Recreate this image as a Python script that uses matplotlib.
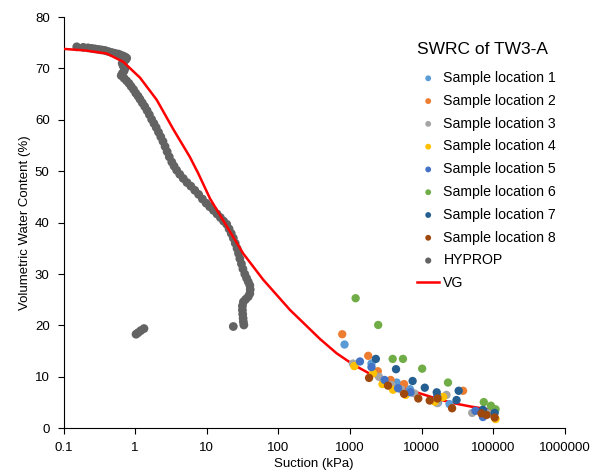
import numpy as np
import matplotlib
matplotlib.use("Agg")
import matplotlib.pyplot as plt

plt.rcParams['font.family'] = ['Liberation Sans', 'DejaVu Sans']

# sample locations (suction kPa, volumetric water content %)
s1_x = [840, 2000, 4500, 6900, 17000, 24600, 90000]
s1_y = [16.3, 12.6, 8.9, 7.6, 5.0, 4.7, 3.2]
s2_x = [780, 1800, 2450, 3700, 5700, 19000, 38000, 90000]
s2_y = [18.3, 14.1, 11.1, 9.4, 8.6, 6.0, 7.3, 2.9]
s3_x = [1100, 2550, 3800, 5250, 7900, 16500, 22300, 51000, 85000]
s3_y = [12.6, 10.0, 8.4, 7.5, 6.8, 4.9, 6.5, 3.0, 2.8]
s4_x = [1150, 2100, 2850, 4000, 6000, 15300, 20000, 108000]
s4_y = [12.1, 10.7, 8.6, 7.5, 6.5, 5.2, 6.1, 1.8]
s5_x = [1380, 2000, 3050, 4700, 7000, 16500, 56600, 72000]
s5_y = [13.0, 11.9, 9.4, 7.8, 7.0, 6.2, 3.4, 2.2]
s6_x = [1200, 2480, 3950, 5500, 10200, 23400, 74000, 93000, 108000]
s6_y = [25.3, 20.1, 13.5, 13.5, 11.6, 8.9, 5.1, 4.4, 3.7]
s7_x = [2300, 4400, 7500, 11100, 16300, 30800, 33000, 72000, 105000]
s7_y = [13.5, 11.5, 9.2, 7.9, 7.0, 5.5, 7.3, 3.6, 3.0]
s8_x = [1850, 3400, 5700, 9000, 13000, 16700, 26700, 68700, 81000, 105000]
s8_y = [9.8, 8.3, 6.7, 5.8, 5.4, 5.8, 3.9, 2.9, 2.6, 2.1]

hyprop_x = [0.153, 0.189, 0.22, 0.247, 0.275, 0.306, 0.34, 0.379, 0.42, 0.471,
            0.52, 0.582, 0.63, 0.684, 0.73, 0.762, 0.74, 0.70, 0.66, 0.68,
            0.72, 0.70, 0.66, 0.64, 0.70, 0.76, 0.82, 0.88, 0.95, 1.02,
            1.10, 1.17, 1.26, 1.36, 1.47, 1.58, 1.70, 1.83, 1.97, 2.12,
            2.28, 2.45, 2.62, 2.8, 3.0, 3.25, 3.5, 3.8, 4.2, 4.7,
            5.3, 6.0, 6.8, 7.7, 8.7, 9.8, 11, 12.4, 13.9, 15.5,
            17.2, 19, 20.5, 22, 23.5, 25, 26.5, 27.8, 29, 30.5,
            32, 34, 36, 38, 40, 40.5, 40, 38, 35, 32.5,
            31.5, 31.5, 31.8, 32.2, 32.5, 33, 23.5, 1.03, 1.1, 1.2, 1.33]
hyprop_y = [74.2, 74.1, 74.0, 73.9, 73.8, 73.7, 73.6, 73.5, 73.3, 73.1,
            72.95, 72.8, 72.6, 72.4, 72.2, 72.0, 71.7, 71.4, 71.0, 70.5,
            70.0, 69.5, 69.0, 68.6, 68.1, 67.6, 67.1, 66.5, 65.9, 65.2,
            64.6, 64.0, 63.3, 62.6, 61.8, 61.0, 60.1, 59.3, 58.5, 57.6,
            56.7, 55.8, 54.8, 53.8, 52.8, 51.8, 51.0, 50.2, 49.4, 48.6,
            47.8, 47.1, 46.3, 45.5, 44.6, 43.8, 43.1, 42.4, 41.7, 41.0,
            40.3, 39.7, 38.8, 37.9, 37.0, 36.0, 35.0, 34.0, 33.0, 32.0,
            31.0, 30.0, 29.2, 28.5, 27.8, 27.0, 26.2, 25.6, 25.1, 24.6,
            23.8, 23.0, 22.2, 21.4, 20.7, 20.1, 19.8, 18.3, 18.6, 19.0, 19.4]

vg_x = [0.1, 0.2, 0.4, 0.68, 1.17, 2.0, 3.4, 5.8, 7.6, 11.1, 17.9, 32.3, 61.5,
        146, 240, 380, 650, 1110, 1900, 3240, 5500, 9460, 16000, 27600, 50000, 94600]
vg_y = [73.8, 73.5, 72.9, 71.3, 68.2, 63.9, 58.2, 52.8, 49.6, 44.7, 39.9, 34.0, 28.9,
        23.0, 20.1, 17.4, 14.6, 12.4, 10.6, 9.2, 7.9, 6.8, 5.8, 4.9, 4.2, 3.6]

samples = [(s1_x, s1_y, '#5B9BD5'), (s2_x, s2_y, '#ED7D31'), (s3_x, s3_y, '#A5A5A5'),
           (s4_x, s4_y, '#FFC000'), (s5_x, s5_y, '#4472C4'), (s6_x, s6_y, '#70AD47'),
           (s7_x, s7_y, '#255E91'), (s8_x, s8_y, '#9E480E')]

fig = plt.figure(figsize=(6.01, 4.74), dpi=100)
ax = fig.add_axes([0.1057, 0.0964, 0.834, 0.8677])

for i, (xs, ys, c) in enumerate(samples):
    ax.scatter(xs, ys, s=36, color=c, edgecolors='none', zorder=4,
               label='Sample location %d' % (i + 1))
ax.scatter(hyprop_x, hyprop_y, s=40, color='#636363', edgecolors='none', zorder=2,
           label='HYPROP')
ax.plot(vg_x, vg_y, color='#FF0000', lw=1.8, zorder=3, label='VG',
        solid_joinstyle='round')

ax.set_xscale('log')
ax.set_xlim(0.1, 1000000)
ax.set_ylim(0, 80)
xt = [0.1, 1, 10, 100, 1000, 10000, 100000, 1000000]
ax.set_xticks(xt)
ax.set_xticklabels(['0.1', '1', '10', '100', '1000', '10000', '100000', '1000000'])
ax.xaxis.set_minor_locator(matplotlib.ticker.NullLocator())
ax.set_yticks(range(0, 81, 10))
ax.tick_params(labelsize=9.5, colors='#000000', length=4, width=0.8, pad=6)
for side in ['top', 'right']:
    ax.spines[side].set_visible(False)
for side in ['left', 'bottom']:
    ax.spines[side].set_color('#000000')
    ax.spines[side].set_linewidth(0.8)

ax.set_xlabel('Suction (kPa)', fontsize=9.5, labelpad=3)
ax.set_ylabel('Volumetric Water Content (%)', fontsize=9.5, labelpad=3)

leg = fig.legend(loc='upper left', bbox_to_anchor=(0.673, 0.938), frameon=False,
                 title='SWRC of TW3-A', title_fontsize=12.5, fontsize=10.2,
                 alignment='left', markerscale=0.7, handlelength=1.55,
                 handletextpad=0.3, labelspacing=0.62)
leg._legend_box.sep = 10

fig.savefig('out.png', dpi=100)
